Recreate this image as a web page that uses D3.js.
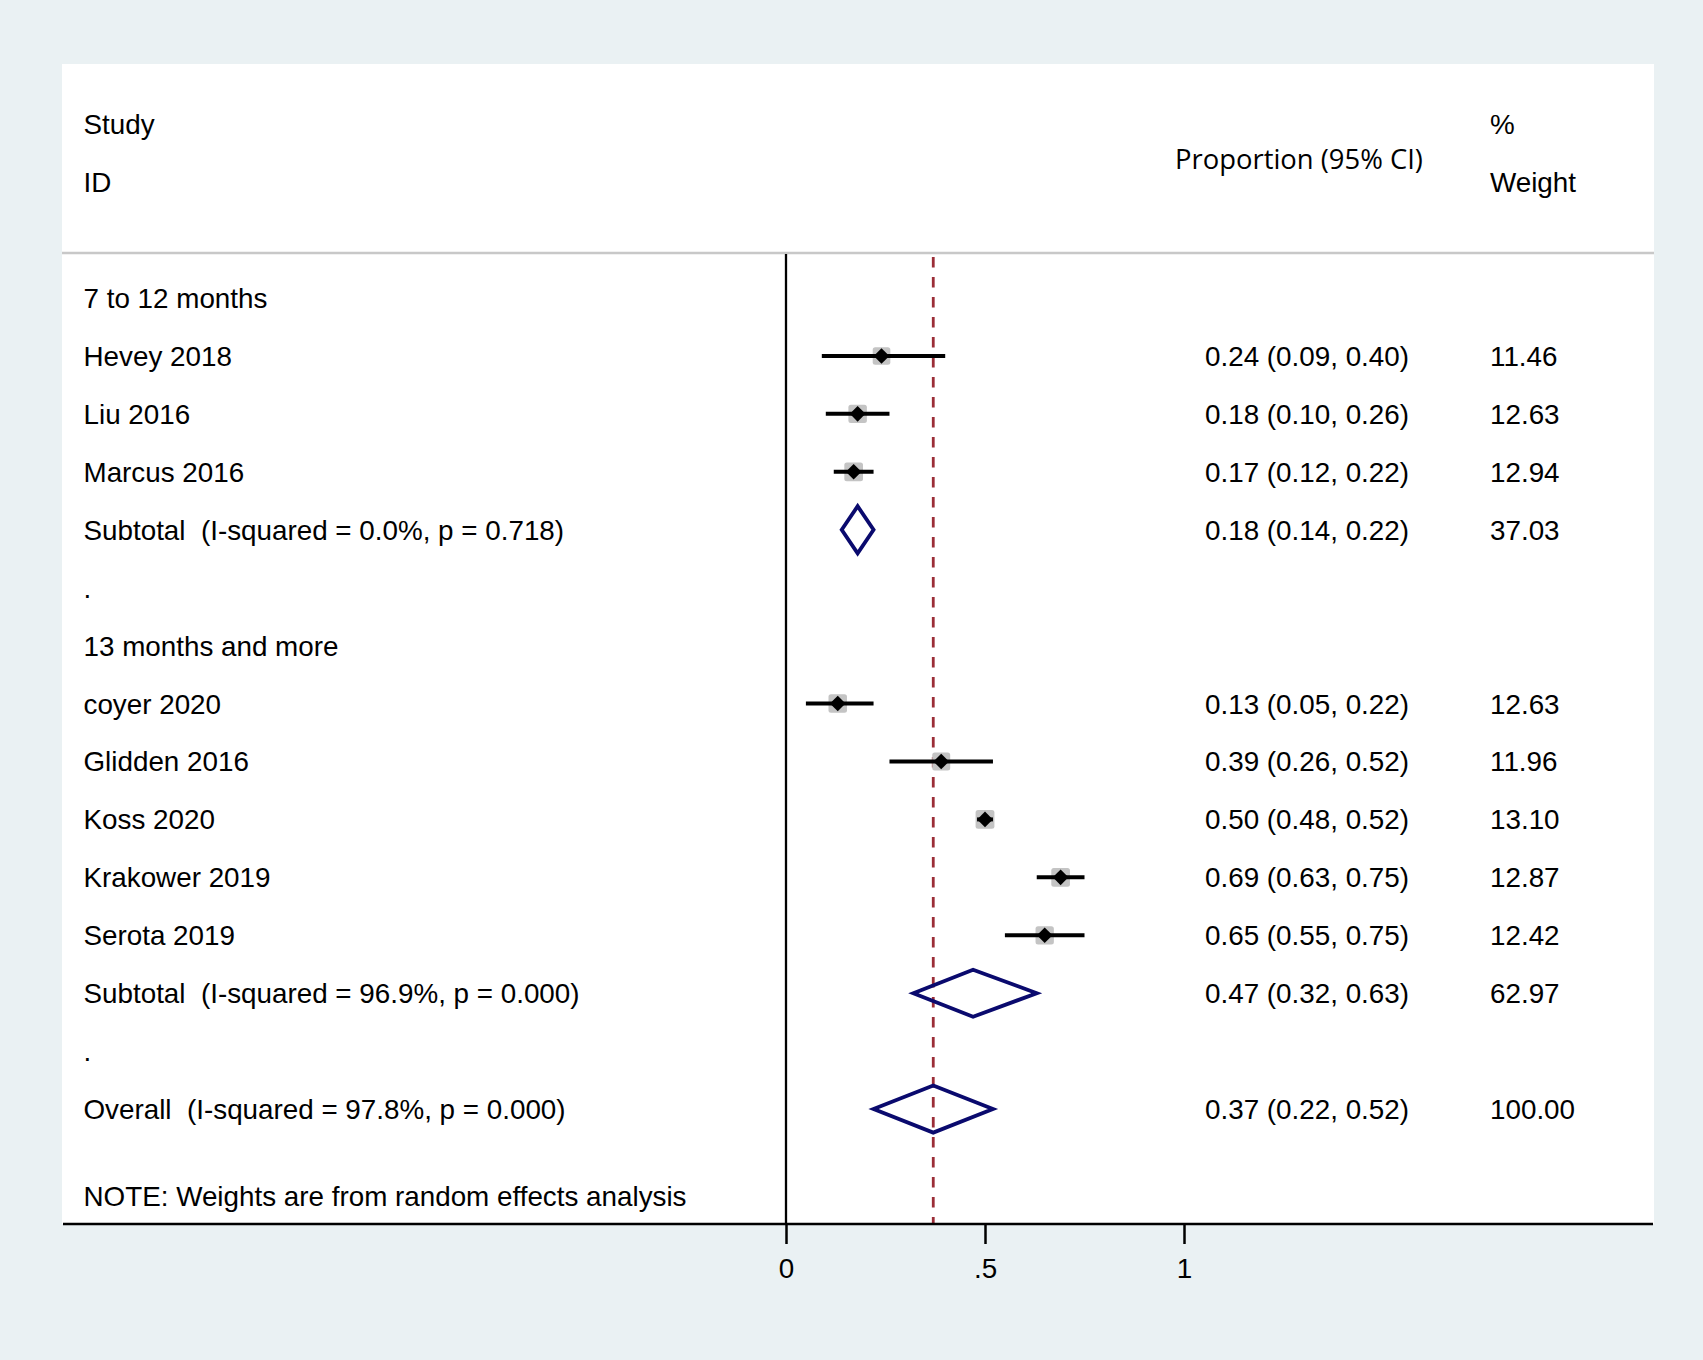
<!DOCTYPE html>
<html><head><meta charset="utf-8">
<script src="https://cdn.jsdelivr.net/npm/d3@7"></script>
<style>
html,body{margin:0;padding:0;background:#eaf1f3;}
svg{display:block;}
text{font-family:"Liberation Sans",Arial,sans-serif;fill:#000;white-space:pre;}
</style></head>
<body>
<svg id="chart" width="1703" height="1360"></svg>
<script>
// ---- data ----
const rowLabels = ["7 to 12 months","Hevey 2018","Liu 2016","Marcus 2016",
  "Subtotal  (I-squared = 0.0%, p = 0.718)",".","13 months and more",
  "coyer 2020","Glidden 2016","Koss 2020","Krakower 2019","Serota 2019",
  "Subtotal  (I-squared = 96.9%, p = 0.000)",".",
  "Overall  (I-squared = 97.8%, p = 0.000)"];
const rowKind = ["head","study","study","study","sum","blank","head",
  "study","study","study","study","study","sum","blank","sum"];
const estimate = [null,0.24,0.18,0.17,0.18,null,null,0.13,0.39,0.50,0.69,0.65,0.47,null,0.37];
const lower    = [null,0.09,0.10,0.12,0.14,null,null,0.05,0.26,0.48,0.63,0.55,0.32,null,0.22];
const upper    = [null,0.40,0.26,0.22,0.22,null,null,0.22,0.52,0.52,0.75,0.75,0.63,null,0.52];
const weight   = [null,11.46,12.63,12.94,37.03,null,null,12.63,11.96,13.10,12.87,12.42,62.97,null,100.00];
const xTicks = [0, 0.5, 1];
const xTickLabels = ["0", ".5", "1"];
const overallEstimate = 0.37;
const noteText = "NOTE: Weights are from random effects analysis";

// ---- layout ----
const svg = d3.select("#chart");
const panel = {left:62, right:1654, top:64, bottom:1224};
const x = d3.scaleLinear().domain([0,1]).range([786,1184]);
const y = d3.scaleLinear().domain([0,15.5]).range([298,1196]);
const fs = 27.8;
const base = 10;
const textX = 83.5, ciRight = 1409, wX = 1490;

svg.append("rect").attr("x",panel.left).attr("y",panel.top)
  .attr("width",panel.right-panel.left).attr("height",panel.bottom-panel.top)
  .attr("fill","#ffffff");

// header
svg.append("text").attr("x",textX).attr("y",124+base).attr("font-size",fs).text("Study");
svg.append("text").attr("x",textX).attr("y",181.5+base).attr("font-size",fs).text("ID");
svg.append("text").attr("x",1299).attr("y",159+base).attr("text-anchor","middle")
  .attr("font-size",27.4).style("font-family","'Open Sans',sans-serif").text("Proportion (95% CI)");
svg.append("text").attr("x",wX).attr("y",124+base).attr("font-size",fs).text("%");
svg.append("text").attr("x",wX).attr("y",181.5+base).attr("font-size",fs).text("Weight");
svg.append("line").attr("x1",panel.left).attr("x2",panel.right).attr("y1",253).attr("y2",253)
  .attr("stroke","#c8c8c8").attr("stroke-width",2.5);

// zero line
svg.append("line").attr("x1",x(0)).attr("x2",x(0)).attr("y1",254).attr("y2",panel.bottom)
  .attr("stroke","#000").attr("stroke-width",2.3);
// overall dashed line
svg.append("line").attr("x1",x(overallEstimate)).attr("x2",x(overallEstimate))
  .attr("y1",257).attr("y2",panel.bottom)
  .attr("stroke","#9b2d37").attr("stroke-width",2.8).attr("stroke-dasharray","10.5,9.5");

// rows
rowLabels.forEach((lab,i)=>{
  const cy = y(i);
  svg.append("text").attr("x",textX).attr("y",cy+base).attr("font-size",fs).text(lab);
  if (estimate[i]!==null){
    svg.append("text").attr("x",ciRight).attr("y",cy+base).attr("font-size",fs)
      .attr("text-anchor","end")
      .text(`${estimate[i].toFixed(2)} (${lower[i].toFixed(2)}, ${upper[i].toFixed(2)})`);
    svg.append("text").attr("x",wX).attr("y",cy+base).attr("font-size",fs)
      .text(weight[i].toFixed(2));
  }
  if (rowKind[i]==="study"){
    const s = 5.2*Math.sqrt(weight[i]);
    const cx = x(estimate[i]);
    svg.append("rect").attr("x",cx-s/2).attr("y",cy-s/2).attr("width",s).attr("height",s)
      .attr("rx",2.5).attr("fill","#c4c4c4");
    svg.append("line").attr("x1",x(lower[i])).attr("x2",x(upper[i])).attr("y1",cy).attr("y2",cy)
      .attr("stroke","#000").attr("stroke-width",4);
    const d=7.8;
    svg.append("path").attr("d",`M${cx-d},${cy}L${cx},${cy-d}L${cx+d},${cy}L${cx},${cy+d}Z`)
      .attr("fill","#000");
  } else if (rowKind[i]==="sum"){
    const h=23.5;
    svg.append("path")
      .attr("d",`M${x(lower[i])},${cy}L${x(estimate[i])},${cy-h}L${x(upper[i])},${cy}L${x(estimate[i])},${cy+h}Z`)
      .attr("fill","none").attr("stroke","#0a0a6e").attr("stroke-width",3.8)
      .attr("stroke-linejoin","miter");
  }
});
svg.append("text").attr("x",textX).attr("y",y(15.5)+base).attr("font-size",fs).text(noteText);

// x axis
svg.append("line").attr("x1",63).attr("x2",1653).attr("y1",panel.bottom).attr("y2",panel.bottom)
  .attr("stroke","#000").attr("stroke-width",2.5);
const ax = svg.append("g").attr("transform",`translate(0,${panel.bottom})`)
  .call(d3.axisBottom(x).tickValues(xTicks).tickSize(20).tickPadding(14)
    .tickFormat((d,i)=>xTickLabels[i]));
ax.select(".domain").remove();
ax.selectAll(".tick line").attr("stroke","#000").attr("stroke-width",2.5);
ax.selectAll(".tick text").attr("font-size",fs).attr("font-family","'Liberation Sans',Arial,sans-serif").attr("fill","#000");
</script>
</body></html>
